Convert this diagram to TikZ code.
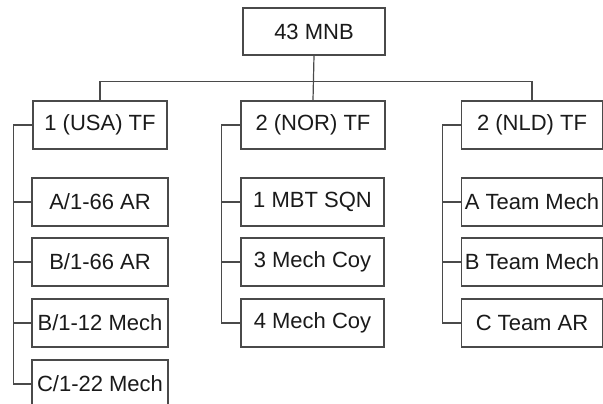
\documentclass[tikz,border=0pt]{standalone}
\usepackage{fontspec}
\setmainfont{Liberation Sans}
\definecolor{linegray}{HTML}{4A4A4A}
\definecolor{txt}{HTML}{1A1A1A}
\begin{document}
\begin{tikzpicture}[x=1pt,y=-1pt,
  box/.style={draw=linegray,line width=1.3pt,fill=white,rectangle,inner sep=0pt,
    minimum height=48pt,text=txt,font=\fontsize{22}{26}\selectfont},
  conn/.style={draw=linegray,line width=1.2pt}]
\useasboundingbox (0,0) rectangle (603,404);
\clip (0,0) rectangle (603,404);
% top
\node[box,minimum width=142pt,minimum height=47pt] (top) at (314,31.5) {43 MNB};
% level 1
\node[box,minimum width=134pt] (usa) at (100,125) {1 (USA) TF};
\node[box,minimum width=144pt] (nor) at (313,125) {2 (NOR) TF};
\node[box,minimum width=141pt] (nld) at (532,125) {2 (NLD) TF};
% USA children
\node[box,minimum width=136pt] (u1) at (100,202) {A/1-66 AR};
\node[box,minimum width=136pt] (u2) at (100,262) {B/1-66 AR};
\node[box,minimum width=136pt] (u3) at (100,323) {B/1-12 Mech};
\node[box,minimum width=136pt] (u4) at (100,384) {C/1-22 Mech};
% NOR children
\node[box,minimum width=143pt] (n1) at (312.5,202) {1 MBT SQN};
\node[box,minimum width=143pt] (n2) at (312.5,262) {3 Mech Coy};
\node[box,minimum width=143pt] (n3) at (312.5,323) {4 Mech Coy};
% NLD children
\node[box,minimum width=141pt] (d1) at (532,202) {A Team Mech};
\node[box,minimum width=141pt] (d2) at (532,262) {B Team Mech};
\node[box,minimum width=141pt] (d3) at (532,323) {C Team AR};
% bus
\draw[conn] (top.south) -- (nor.north);
\draw[conn] (usa.north) -- ++(0,-19) -| (nld.north);
% brackets
\draw[conn] (usa.west) -- ++(-19,0) |- (u4.west);
\foreach \n in {u1,u2,u3} \draw[conn] (\n.west) -- ++(-18,0);
\draw[conn] (nor.west) -- ++(-19,0) |- (n3.west);
\foreach \n in {n1,n2} \draw[conn] (\n.west) -- ++(-19,0);
\draw[conn] (nld.west) -- ++(-18,0) |- (d3.west);
\foreach \n in {d1,d2} \draw[conn] (\n.west) -- ++(-18,0);
\end{tikzpicture}
\end{document}
